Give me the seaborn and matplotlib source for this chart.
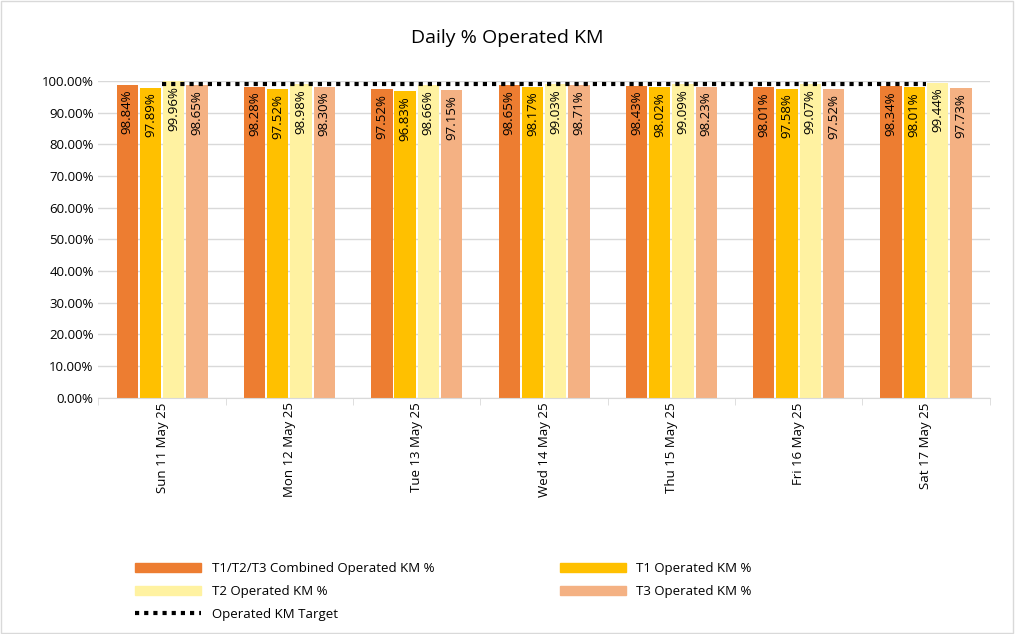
import matplotlib
matplotlib.use("Agg")
import matplotlib.pyplot as plt
import seaborn as sns
import pandas as pd
import numpy as np
from matplotlib.ticker import FuncFormatter

days = ["Sun 11 May 25","Mon 12 May 25","Tue 13 May 25","Wed 14 May 25","Thu 15 May 25","Fri 16 May 25","Sat 17 May 25"]
series = ["T1/T2/T3 Combined Operated KM %","T1 Operated KM %","T2 Operated KM %","T3 Operated KM %"]
combined = [98.84,98.28,97.52,98.65,98.43,98.01,98.34]
t1 = [97.89,97.52,96.83,98.17,98.02,97.58,98.01]
t2 = [99.96,98.98,98.66,99.03,99.09,99.07,99.44]
t3 = [98.65,98.30,97.15,98.71,98.23,97.52,97.73]
target = [99.0]*7
colors = ["#ED7D31","#FFC000","#FFF2A1","#F4B183"]

rows = []
for s, vals in zip(series, [combined, t1, t2, t3]):
    for d, v in zip(days, vals):
        rows.append({"day": d, "series": s, "value": v})
df = pd.DataFrame(rows)

plt.rcParams["font.family"] = "Open Sans"
fig = plt.figure(figsize=(10.15, 6.34), dpi=100)
ax = fig.add_axes([0.097, 0.373, 0.878, 0.499])
sns.barplot(data=df, x="day", y="value", hue="series", palette=colors, ax=ax,
            width=0.73, gap=0.08, legend=False, saturation=1)
for c in ax.containers:
    for bar, v in zip(c, c.datavalues):
        ax.text(bar.get_x()+bar.get_width()/2, bar.get_height()-1.5, f"{v:.2f}%",
                rotation=90, ha="center", va="top", fontsize=9.5, color="black")
ax.plot(range(7), target, linestyle=(0,(1,1.2)), color="black", lw=3)
ax.set_ylim(0, 100)
ax.set_xlim(-0.5, 6.5)
ax.set_yticks(np.arange(0, 101, 10))
ax.yaxis.set_major_formatter(FuncFormatter(lambda v, p: f"{v:.2f}%"))
ax.grid(axis="y", color="#D9D9D9", lw=1)
ax.set_axisbelow(True)
for s in ["top","right","left"]:
    ax.spines[s].set_visible(False)
ax.spines["bottom"].set_color("#D9D9D9")
ax.tick_params(axis="both", length=0, labelsize=9.5)
ax.set_xticks(np.arange(-0.5, 7, 1), minor=True)
ax.tick_params(axis="x", which="minor", length=5, color="#D9D9D9")
plt.setp(ax.get_xticklabels(), rotation=90)
ax.set_xlabel(""); ax.set_ylabel("")
fig.text(0.5, 0.94, "Daily % Operated KM", ha="center", va="center", fontsize=14)

from matplotlib.patches import Patch
from matplotlib.lines import Line2D
handles = [Patch(color=c) for c in colors] + [Line2D([0],[0], color="black", lw=3, linestyle=(0,(1,1.2)))]
labels = series + ["Operated KM Target"]
order = [0,2,4,1,3]
leg = fig.legend([handles[i] for i in order], [labels[i] for i in order], ncol=2,
                 loc="upper left", bbox_to_anchor=(0.128, 0.122), frameon=False,
                 fontsize=9.5, columnspacing=9.5, handlelength=5, labelspacing=0.75,
                 borderaxespad=0)
fig.patches.append(plt.Rectangle((0.001,0.001),0.997,0.997, transform=fig.transFigure,
                                 fill=False, edgecolor="#D9D9D9", lw=1))
fig.savefig("out.png", dpi=100)
